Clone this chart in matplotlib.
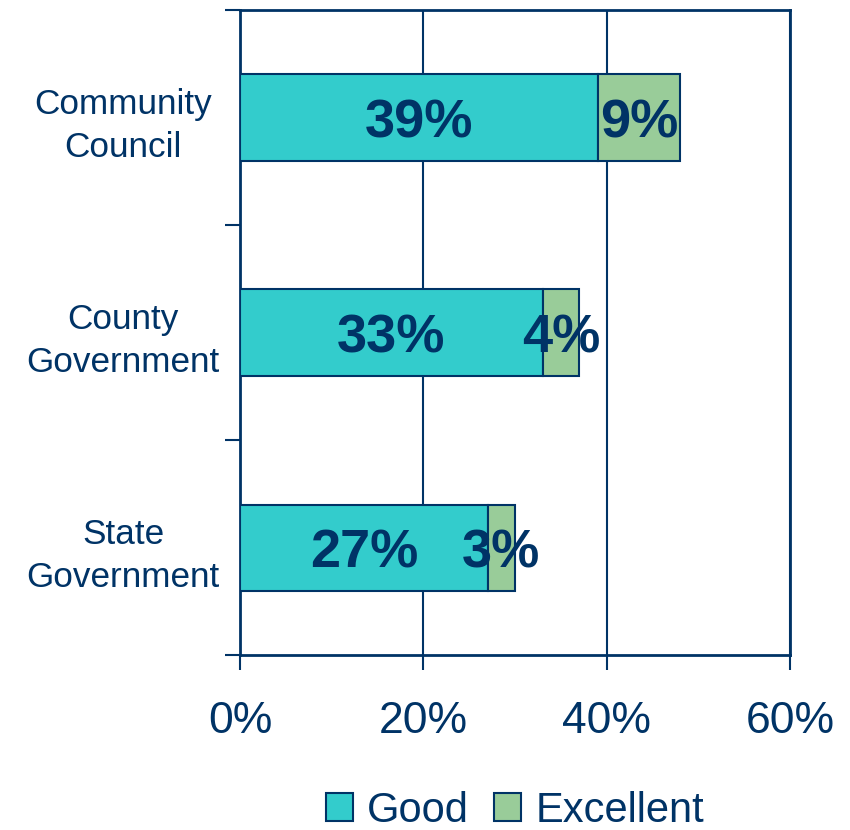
import matplotlib
matplotlib.use("Agg")
import matplotlib.pyplot as plt
from matplotlib.patches import Patch
from matplotlib.ticker import FixedLocator, PercentFormatter

categories = ["State\nGovernment", "County\nGovernment", "Community\nCouncil"]
good = [27, 33, 39]
excellent = [3, 4, 9]
series_names = ["Good", "Excellent"]
xticks = [0, 20, 40, 60]

NAVY = "#003366"
C_GOOD = "#33CCCC"
C_EXC = "#99CC99"

plt.rcParams['font.family'] = ['Liberation Sans', 'DejaVu Sans']

fig = plt.figure(figsize=(8.5, 8.3), dpi=100)
ax = fig.add_axes([240/850, 1-655/830, 550/850, 645/830])

y = list(range(len(categories)))
ax.barh(y, good, height=0.4, color=C_GOOD, edgecolor=NAVY, linewidth=1.5, zorder=3)
ax.barh(y, excellent, left=good, height=0.4, color=C_EXC, edgecolor=NAVY, linewidth=1.5, zorder=3)

for yi, g, e in zip(y, good, excellent):
    for xc, v in ((g/2, g), (g + e/2, e)):
        ax.annotate(f"{v}%", (xc, yi), xytext=(0, -4), textcoords="offset points",
                    ha="center", va="center", fontsize=39,
                    fontweight="bold", color=NAVY, zorder=4)

ax.set_xlim(0, 60)
ax.set_ylim(-0.5, 2.5)
ax.set_xticks(xticks)
ax.xaxis.set_major_formatter(PercentFormatter(decimals=0))
ax.tick_params(axis="x", direction="out", length=11, width=1.5, color=NAVY,
               labelsize=32, labelcolor=NAVY, pad=22)
ax.set_yticks(y)
ax.set_yticklabels(categories, fontsize=25.3, color=NAVY, ha="center", linespacing=1.37)
ax.tick_params(axis="y", which="major", length=0, pad=84)
ax.yaxis.set_minor_locator(FixedLocator([-0.5, 0.5, 1.5, 2.5]))
ax.tick_params(axis="y", which="minor", direction="out", length=11, width=1.5, color=NAVY)

ax.grid(axis="x", color=NAVY, linewidth=1.5, zorder=0)
for s in ax.spines.values():
    s.set_color(NAVY)
    s.set_linewidth(2)

handles = [Patch(facecolor=C_GOOD, edgecolor=NAVY, linewidth=1.5),
           Patch(facecolor=C_EXC, edgecolor=NAVY, linewidth=1.5)]
fig.legend(handles, series_names, loc="center", bbox_to_anchor=(515/850, 1-811/830),
           ncol=2, frameon=False, fontsize=30, labelcolor=NAVY,
           handlelength=0.65, handleheight=0.65, handletextpad=0.35, columnspacing=0.6,
           borderpad=0.2)

fig.savefig("out.png", dpi=100)
